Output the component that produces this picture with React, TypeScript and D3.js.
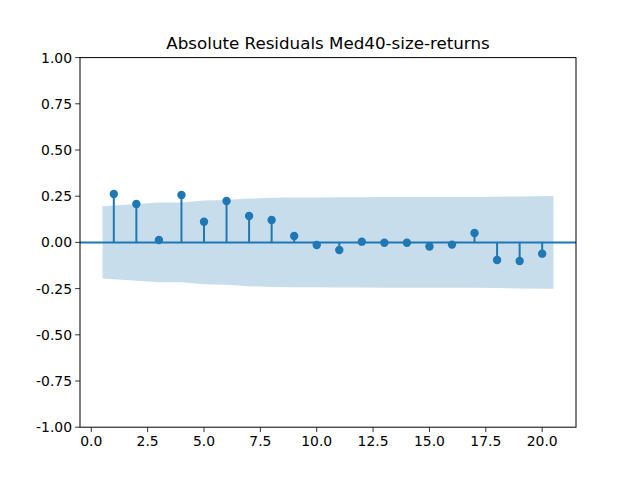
import React from 'react'
import * as d3 from 'd3'

const title = 'Absolute Residuals Med40-size-returns'

// lags and autocorrelation values
const lags = [1, 2, 3, 4, 5, 6, 7, 8, 9, 10, 11, 12, 13, 14, 15, 16, 17, 18, 19, 20]
const acf = [
  0.262, 0.208, 0.013, 0.257, 0.112, 0.224, 0.143, 0.121, 0.035, -0.014,
  -0.041, 0.004, -0.002, -0.002, -0.022, -0.012, 0.051, -0.095, -0.101, -0.061,
]
// half width of confidence band at each lag
const band = [
  0.195, 0.208, 0.216, 0.216, 0.227, 0.229, 0.237, 0.241, 0.243, 0.243,
  0.244, 0.244, 0.245, 0.245, 0.245, 0.245, 0.246, 0.247, 0.249, 0.251,
]

const xTicks = [0, 2.5, 5, 7.5, 10, 12.5, 15, 17.5, 20]
const yTicks = [-1, -0.75, -0.5, -0.25, 0, 0.25, 0.5, 0.75, 1]

const W = 640
const H = 480
const margin = { top: 57.6, right: 64, bottom: 52.8, left: 80 }
const C0 = '#1f77b4'
const font = 'DejaVu Sans, sans-serif'

const App: React.FC = () => {
  const x = d3.scaleLinear().domain([-0.5, 21.5]).range([margin.left, W - margin.right])
  const y = d3.scaleLinear().domain([-1, 1]).range([H - margin.bottom, margin.top])

  // statsmodels widens first / last band point by half a lag
  const bandPts = lags.map((l, i) => ({
    lag: i === 0 ? l - 0.5 : i === lags.length - 1 ? l + 0.5 : l,
    w: band[i],
  }))
  const area = d3.area<{ lag: number; w: number }>()
    .x(d => x(d.lag))
    .y0(d => y(-d.w))
    .y1(d => y(d.w))

  const x0 = margin.left
  const x1 = W - margin.right
  const y0 = margin.top
  const y1 = H - margin.bottom

  return (
    <svg width={W} height={H} style={{ position: 'absolute', left: 0, top: 0 }}>
      <rect width={W} height={H} fill="white" />
      <path d={area(bandPts) || ''} fill={C0} fillOpacity={0.25} />
      <line x1={x0} x2={x1} y1={y(0)} y2={y(0)} stroke={C0} strokeWidth={2} />
      {lags.map((l, i) => (
        <g key={l}>
          <line x1={x(l)} x2={x(l)} y1={y(0)} y2={y(acf[i])} stroke={C0} strokeWidth={2} />
          <circle cx={x(l)} cy={y(acf[i])} r={4.2} fill={C0} />
        </g>
      ))}
      <rect x={x0} y={y0} width={x1 - x0} height={y1 - y0} fill="none" stroke="black" strokeWidth={1} />
      {xTicks.map(t => (
        <g key={t}>
          <line x1={x(t)} x2={x(t)} y1={y1} y2={y1 + 4.9} stroke="black" strokeWidth={0.8} />
          <text x={x(t)} y={y1 + 19} textAnchor="middle" fontFamily={font} fontSize={13.9}>
            {t.toFixed(1)}
          </text>
        </g>
      ))}
      {yTicks.map(t => (
        <g key={t}>
          <line x1={x0 - 4.9} x2={x0} y1={y(t)} y2={y(t)} stroke="black" strokeWidth={0.8} />
          <text x={x0 - 8} y={y(t)} dy="0.36em" textAnchor="end" fontFamily={font} fontSize={13.9}>
            {t.toFixed(2)}
          </text>
        </g>
      ))}
      <text x={(x0 + x1) / 2} y={y0 - 8.5} textAnchor="middle" fontFamily={font} fontSize={16.7}>
        {title}
      </text>
    </svg>
  )
}

export default App
